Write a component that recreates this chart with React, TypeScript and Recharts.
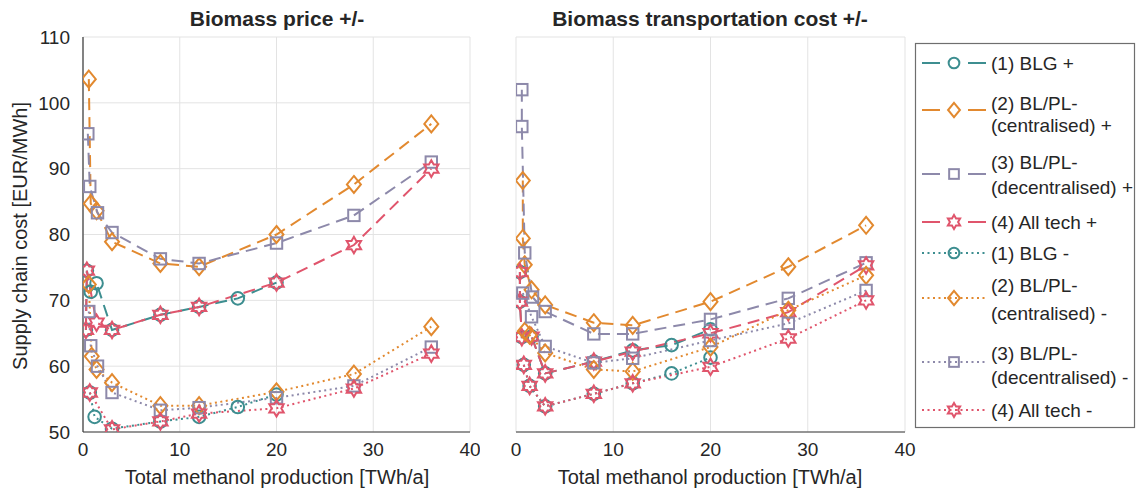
import { LineChart, Line, XAxis, YAxis, CartesianGrid } from 'recharts';

const TEAL = '#3d8e90';
const ORANGE = '#e2892f';
const PURPLE = '#8d89aa';
const RED = '#e0556c';
const INK = '#262626';
const FONT = '"Liberation Sans", Arial, Helvetica, sans-serif';

const X_TICKS = [0, 10, 20, 30, 40];
const Y_TICKS = [50, 60, 70, 80, 90, 100, 110];

// Biomass price +/-  ([TWh/a, EUR/MWh])
const priceBlgPlus = [[0.3, 65.5], [0.4, 74.5], [0.8, 71.3], [1.4, 72.6], [3, 65.5], [8, 67.8], [12, 69], [16, 70.3], [20, 72.7]];
const priceCentPlus = [[0.6, 103.6], [0.8, 84.7], [1.4, 83.6], [3, 78.9], [8, 75.6], [12, 75.1], [20, 80], [28, 87.6], [36, 96.8]];
const priceDecPlus = [[0.5, 95.3], [0.7, 87.3], [1.5, 83.3], [3, 80.3], [8, 76.3], [12, 75.6], [20, 78.7], [28, 82.9], [36, 91]];
const priceAllPlus = [[0.3, 65.5], [0.4, 74.5], [1.4, 66.6], [3, 65.5], [8, 67.8], [12, 69], [20, 72.7], [28, 78.4], [36, 90]];
const priceBlgMinus = [[0.7, 56], [1.2, 52.3], [3, 50.5], [8, 51.6], [12, 52.3], [16, 53.8], [20, 55.7]];
const priceCentMinus = [[0.6, 72.4], [0.9, 61.5], [1.4, 59.5], [3, 57.5], [8, 54], [12, 54], [20, 56.1], [28, 58.8], [36, 66]];
const priceDecMinus = [[0.6, 68.3], [0.8, 63.1], [1.5, 60], [3, 56], [8, 53.3], [12, 53.7], [20, 55.2], [28, 57], [36, 62.9]];
const priceAllMinus = [[0.7, 56], [3, 50.4], [8, 51.6], [12, 52.8], [20, 53.6], [28, 56.6], [36, 61.9]];

// Biomass transportation cost +/-
const transBlgPlus = [[0.4, 74.3], [0.4, 69.8], [0.6, 64.4], [1.6, 64.5], [3, 58.9], [8, 60.7], [12, 62.4], [16, 63.2], [20, 65.6]];
const transCentPlus = [[0.7, 88.2], [0.7, 79.4], [0.9, 75.4], [1.6, 71.6], [3, 69.3], [8, 66.6], [12, 66.2], [20, 69.8], [28, 75.1], [36, 81.4]];
const transDecPlus = [[0.6, 102], [0.6, 96.4], [0.9, 77.2], [1.7, 70.5], [3, 68.3], [8, 64.9], [12, 64.9], [20, 67.1], [28, 70.3], [36, 75.7]];
const transAllPlus = [[0.4, 74.3], [0.4, 69.8], [0.6, 64.4], [1.6, 64.5], [3, 58.9], [8, 60.7], [12, 62.2], [20, 65], [28, 68.2], [36, 75.3]];
const transBlgMinus = [[0.8, 60.2], [1.4, 57], [3, 53.9], [8, 55.8], [12, 57.4], [16, 58.9], [20, 61.3]];
const transCentMinus = [[0.9, 65.3], [1.4, 64.7], [3, 62], [8, 59.5], [12, 59.2], [20, 62.9], [28, 68.5], [36, 73.8]];
const transDecMinus = [[0.7, 71.1], [1.6, 67.5], [3, 63], [8, 60.5], [12, 61.2], [20, 63.9], [28, 66.5], [36, 71.5]];
const transAllMinus = [[0.8, 60.2], [1.4, 57], [3, 53.9], [8, 55.8], [12, 57.4], [20, 59.9], [28, 64.2], [36, 70]];

const DASH = '12 7';
const DOT = '2 3.5';

const SERIES = [
  { key: 'blgPlus', lines: ['(1) BLG +'], color: TEAL, shape: 'circle', dash: DASH },
  { key: 'centPlus', lines: ['(2) BL/PL-', '(centralised) +'], color: ORANGE, shape: 'diamond', dash: DASH },
  { key: 'decPlus', lines: ['(3) BL/PL-', '(decentralised) +'], color: PURPLE, shape: 'square', dash: DASH },
  { key: 'allPlus', lines: ['(4) All tech +'], color: RED, shape: 'hexagram', dash: DASH },
  { key: 'blgMinus', lines: ['(1) BLG -'], color: TEAL, shape: 'circle', dash: DOT },
  { key: 'centMinus', lines: ['(2) BL/PL-', '(centralised) -'], color: ORANGE, shape: 'diamond', dash: DOT },
  { key: 'decMinus', lines: ['(3) BL/PL-', '(decentralised) -'], color: PURPLE, shape: 'square', dash: DOT },
  { key: 'allMinus', lines: ['(4) All tech -'], color: RED, shape: 'hexagram', dash: DOT },
];

const PRICE: Record<string, number[][]> = {
  blgPlus: priceBlgPlus, centPlus: priceCentPlus, decPlus: priceDecPlus, allPlus: priceAllPlus,
  blgMinus: priceBlgMinus, centMinus: priceCentMinus, decMinus: priceDecMinus, allMinus: priceAllMinus,
};
const TRANS: Record<string, number[][]> = {
  blgPlus: transBlgPlus, centPlus: transCentPlus, decPlus: transDecPlus, allPlus: transAllPlus,
  blgMinus: transBlgMinus, centMinus: transCentMinus, decMinus: transDecMinus, allMinus: transAllMinus,
};

const toPts = (arr: number[][]) => arr.map(([x, y]) => ({ x, y }));

function Marker({ shape, cx, cy, color, scale = 1 }: { shape: string; cx?: number; cy?: number; color: string; scale?: number }) {
  if (cx == null || cy == null) return null;
  const common = { fill: 'none', stroke: color, strokeWidth: 2 };
  const s = scale;
  if (shape === 'circle') return <circle cx={cx} cy={cy} r={6.3 * s} {...common} />;
  if (shape === 'diamond') {
    return <path d={`M${cx},${cy - 8.5 * s}L${cx + 7 * s},${cy}L${cx},${cy + 8.5 * s}L${cx - 7 * s},${cy}Z`} {...common} />;
  }
  if (shape === 'square') return <rect x={cx - 5.7 * s} y={cy - 5.7 * s} width={11.4 * s} height={11.4 * s} {...common} />;
  const pts: string[] = [];
  for (let k = 0; k < 12; k++) {
    const a = ((-90 + k * 30) * Math.PI) / 180;
    const r = (k % 2 === 0 ? 8.3 : 4.8) * s;
    pts.push(`${cx + r * Math.cos(a)},${cy + r * Math.sin(a)}`);
  }
  return <polygon points={pts.join(' ')} {...common} />;
}

const tickStyle = { fill: INK, fontSize: 19, fontFamily: FONT };
const axisLine = { stroke: '#3a3a3a', strokeWidth: 1.2 };

function Panel({ data, width, margin, showY }: { data: Record<string, number[][]>; width: number; margin: any; showY: boolean }) {
  return (
    <LineChart width={width} height={490} margin={margin}>
      <CartesianGrid stroke="#e3e3e3" strokeWidth={1} />
      <XAxis
        dataKey="x"
        type="number"
        domain={[0, 40]}
        ticks={X_TICKS}
        allowDataOverflow
        tickLine={false}
        tickSize={6}
        tickMargin={5}
        height={30}
        axisLine={axisLine}
        tick={tickStyle}
      />
      <XAxis xAxisId="top" orientation="top" dataKey="x" type="number" domain={[0, 40]} ticks={X_TICKS} height={0} tick={false} tickLine={false} axisLine={axisLine} />
      <YAxis
        type="number"
        domain={[50, 110]}
        ticks={Y_TICKS}
        allowDataOverflow
        width={showY ? 60 : 0}
        tickLine={false}
        tickSize={6}
        tickMargin={7}
        axisLine={axisLine}
        tick={showY ? tickStyle : false}
      />
      <YAxis yAxisId="right" orientation="right" type="number" domain={[50, 110]} ticks={Y_TICKS} width={0} tick={false} tickLine={false} axisLine={axisLine} />
      {SERIES.map((s) => (
        <Line
          key={s.key}
          data={toPts(data[s.key])}
          dataKey="y"
          stroke={s.color}
          strokeWidth={2}
          strokeDasharray={s.dash}
          isAnimationActive={false}
          activeDot={false}
          dot={(p: any) => <Marker key={`${s.key}-${p.index}`} shape={s.shape} cx={p.cx} cy={p.cy} color={s.color} />}
        />
      ))}
    </LineChart>
  );
}

const LEGEND_ROWS = [
  { sample: 63, text: [63] },
  { sample: 110, text: [103, 125] },
  { sample: 174, text: [162, 187] },
  { sample: 222, text: [222] },
  { sample: 253, text: [253] },
  { sample: 298, text: [285, 313] },
  { sample: 362, text: [353, 377] },
  { sample: 410, text: [410] },
];

function LegendBox() {
  return (
    <svg width={1137} height={490} style={{ position: 'absolute', left: 0, top: 0, pointerEvents: 'none' }}>
      <rect x={915.5} y={43.5} width={219} height={384} fill="#fff" stroke="#6e6e6e" strokeWidth={1.2} />
      {SERIES.map((s, i) => {
        const row = LEGEND_ROWS[i];
        return (
          <g key={s.key}>
            <line x1={922} x2={986} y1={row.sample} y2={row.sample} stroke={s.color} strokeWidth={2} strokeDasharray={s.dash === DASH ? '18 28' : s.dash} />
            <Marker shape={s.shape} cx={954} cy={row.sample} color={s.color} scale={0.85} />
            {s.lines.map((t, j) => (
              <text key={j} x={991} y={row.text[j]} dominantBaseline="central" fontSize={19} fontFamily={FONT} fill={INK}>
                {t}
              </text>
            ))}
          </g>
        );
      })}
    </svg>
  );
}

const titleStyle: any = { position: 'absolute', top: 7, fontSize: 21, fontWeight: 'bold', color: INK, textAlign: 'center', fontFamily: FONT, whiteSpace: 'nowrap' };
const xLabelStyle: any = { position: 'absolute', top: 466, fontSize: 20, color: INK, textAlign: 'center', fontFamily: FONT, whiteSpace: 'nowrap' };

export default function App() {
  return (
    <div style={{ position: 'absolute', left: 0, top: 0, width: 1137, height: 490, background: '#fff', fontFamily: FONT }}>
      <div style={{ position: 'absolute', left: 0, top: 0 }}>
        <Panel data={PRICE} width={480} margin={{ top: 37, right: 10, bottom: 28, left: 23 }} showY />
      </div>
      <div style={{ position: 'absolute', left: 480, top: 0 }}>
        <Panel data={TRANS} width={440} margin={{ top: 37, right: 15, bottom: 28, left: 36 }} showY={false} />
      </div>
      <div style={{ ...titleStyle, left: 77, width: 400 }}>Biomass price +/-</div>
      <div style={{ ...titleStyle, left: 510, width: 400 }}>Biomass transportation cost +/-</div>
      <div style={{ ...xLabelStyle, left: 77, width: 400 }}>Total methanol production [TWh/a]</div>
      <div style={{ ...xLabelStyle, left: 510, width: 400 }}>Total methanol production [TWh/a]</div>
      <div
        style={{
          position: 'absolute',
          left: 20,
          top: 236,
          transform: 'translate(-50%, -50%) rotate(-90deg)',
          fontSize: 20,
          color: INK,
          fontFamily: FONT,
          whiteSpace: 'nowrap',
        }}
      >
        Supply chain cost [EUR/MWh]
      </div>
      <LegendBox />
    </div>
  );
}
